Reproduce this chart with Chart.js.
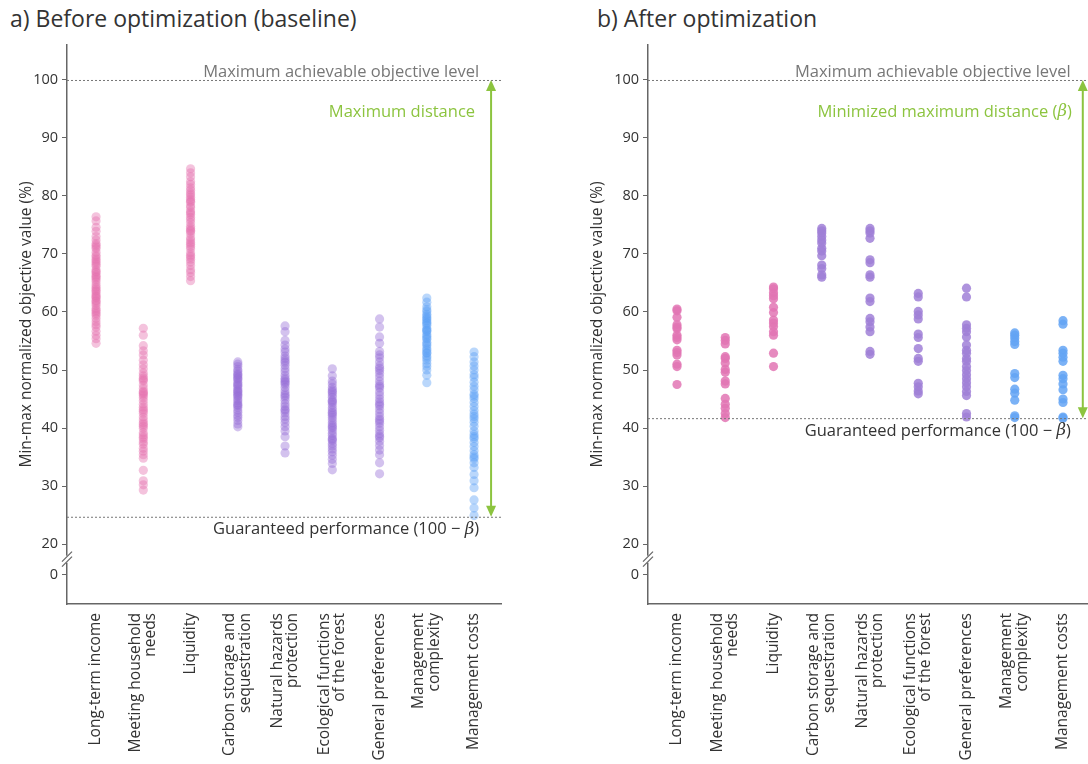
<!DOCTYPE html>
<html lang="en">
<head>
  <meta charset="UTF-8" />
  <title>Objective values before and after optimization</title>
  <style>
    body {
      margin: 0;
      background: #fff;
      font-family: "Open Sans", sans-serif;
    }
    .title {
      position: absolute;
      top: 2px;
      font-size: 23px;
      color: #333;
    }
    canvas {
      position: absolute;
      top: 0;
    }
  </style>
</head>
<body>
  <div class="title" style="left:10px">a) Before optimization (baseline)</div>
  <div class="title" style="left:597px">b) After optimization</div>
  <canvas id="chartA" width="520" height="764" style="left:0"></canvas>
  <canvas id="chartB" width="528" height="764" style="left:560px"></canvas>

  <script src="https://cdn.jsdelivr.net/npm/chart.js"></script>
  <script>
    const FONT = '"Open Sans", sans-serif';
    const LABEL_SIZE = 15.5, LABEL_LINE = 15.5;

    const categories = [
      ['Long-term income'],
      ['Meeting household', 'needs'],
      ['Liquidity'],
      ['Carbon storage and', 'sequestration'],
      ['Natural hazards', 'protection'],
      ['Ecological functions', 'of the forest'],
      ['General preferences'],
      ['Management', 'complexity'],
      ['Management costs']
    ];

    // y ticks: the "0" sits below the axis break
    const yTickValues = [14.66, 20, 30, 40, 50, 60, 70, 80, 90, 100];
    const yTickLabels = ['0', '20', '30', '40', '50', '60', '70', '80', '90', '100'];

    // a) baseline
    const beforeIncome = [76.4, 75.7, 74.6, 73.9, 73.0, 72.4, 71.8, 71.2, 70.9, 70.3, 69.8, 69.5, 68.8, 68.5, 67.9, 67.3, 67.0, 66.4, 66.1, 65.6, 65.2, 64.7, 64.3, 63.7, 63.5, 62.8, 62.4, 62.0, 61.5, 61.1, 60.6, 60.3, 59.7, 59.4, 58.9, 58.3, 57.8, 57.4, 56.7, 56.0, 55.4, 54.6, 71.5, 69.1, 66.8, 64.0, 62.6, 61.8, 60.0, 65.9, 68.2, 63.1];
    const beforeHousehold = [57.2, 56.0, 54.2, 53.3, 52.6, 51.7, 50.9, 50.2, 49.5, 49.0, 48.6, 48.1, 47.4, 46.8, 46.3, 45.9, 45.2, 44.7, 44.1, 43.6, 43.2, 42.5, 41.9, 41.4, 40.9, 40.3, 39.9, 39.2, 38.8, 38.1, 37.6, 37.2, 36.5, 36.0, 35.4, 34.8, 32.7, 30.9, 30.2, 29.3, 48.3, 45.6, 42.9, 40.6, 38.4, 46.1];
    const beforeLiquidity = [84.7, 84.0, 83.3, 82.5, 82.0, 81.4, 81.0, 80.5, 79.8, 79.4, 78.9, 78.3, 78.0, 77.4, 76.8, 76.3, 75.9, 75.4, 74.8, 74.4, 73.9, 73.5, 72.8, 72.4, 71.7, 71.3, 70.9, 70.2, 69.8, 69.1, 68.6, 68.0, 67.3, 66.8, 66.1, 65.4, 79.1, 77.1, 74.1, 72.0, 80.2, 69.5];
    const beforeCarbon = [51.4, 51.0, 50.6, 50.1, 49.8, 49.4, 49.0, 48.7, 48.3, 47.9, 47.6, 47.2, 46.8, 46.5, 46.1, 45.8, 45.4, 45.0, 44.7, 44.3, 43.9, 43.6, 43.1, 42.7, 42.2, 41.8, 41.3, 40.7, 40.2, 48.5, 46.3, 44.0, 47.4, 45.6, 49.2];
    const beforeHazards = [57.6, 56.6, 55.1, 54.3, 53.6, 53.1, 52.4, 52.0, 51.3, 50.8, 50.2, 49.7, 49.1, 48.6, 48.0, 47.5, 47.0, 46.4, 45.9, 45.3, 44.8, 44.2, 43.7, 43.2, 42.6, 42.0, 41.5, 40.9, 40.2, 39.5, 38.5, 36.9, 35.7, 51.6, 48.3, 45.6, 43.0, 47.8];
    const beforeEcological = [50.2, 49.0, 48.1, 47.6, 47.0, 46.6, 46.1, 45.7, 45.3, 44.8, 44.4, 44.0, 43.5, 43.1, 42.7, 42.2, 41.8, 41.4, 40.9, 40.5, 40.0, 39.6, 39.1, 38.7, 38.2, 37.8, 37.3, 36.9, 36.4, 35.9, 35.3, 34.6, 33.9, 32.8, 44.6, 42.5, 40.2, 38.0, 46.3];
    const beforePreferences = [58.8, 57.4, 55.7, 54.6, 53.2, 52.6, 52.1, 51.4, 50.7, 49.9, 49.4, 48.8, 48.1, 47.5, 46.9, 46.2, 45.6, 45.0, 44.5, 43.8, 43.2, 42.6, 42.0, 41.5, 40.8, 40.2, 39.6, 39.0, 38.3, 37.7, 37.0, 36.2, 35.4, 34.0, 32.1, 50.3, 47.2, 44.1, 41.2, 38.6];
    const beforeComplexity = [62.4, 61.7, 60.9, 60.4, 60.1, 59.6, 59.3, 58.8, 58.5, 58.2, 57.7, 57.2, 56.9, 56.6, 56.1, 55.8, 55.3, 54.8, 54.5, 54.2, 53.7, 53.4, 52.9, 52.4, 52.1, 51.7, 51.1, 50.6, 50.0, 49.1, 47.8, 58.0, 55.5, 53.0, 56.8, 59.0];
    const beforeCosts = [53.1, 52.3, 51.4, 50.7, 50.0, 49.2, 48.7, 47.9, 47.2, 46.6, 45.8, 45.1, 44.4, 43.7, 43.0, 42.4, 41.6, 41.0, 40.3, 39.5, 38.9, 38.2, 37.5, 36.8, 36.1, 35.4, 34.7, 34.0, 33.2, 32.0, 30.9, 29.7, 27.6, 26.2, 24.9, 45.5, 42.0, 38.5, 35.0];

    // b) after optimization
    const afterIncome = [60.5, 60.2, 59.1, 57.8, 57.4, 57.1, 56.0, 55.6, 55.2, 53.4, 53.0, 52.6, 51.0, 50.6, 47.5];
    const afterHousehold = [55.6, 55.1, 54.5, 52.3, 52.0, 51.2, 50.1, 49.6, 48.1, 47.6, 45.1, 44.1, 43.4, 42.5, 41.8];
    const afterLiquidity = [64.3, 64.0, 63.3, 62.8, 62.3, 60.8, 59.9, 58.6, 58.1, 57.5, 56.6, 56.0, 52.9, 50.6];
    const afterCarbon = [74.4, 74.0, 73.6, 73.0, 72.4, 71.9, 71.0, 70.5, 69.7, 68.1, 67.5, 66.4, 66.0];
    const afterHazards = [74.4, 74.0, 73.6, 72.7, 69.0, 68.5, 66.4, 66.0, 62.4, 61.8, 58.9, 58.3, 57.4, 56.6, 53.2, 52.7];
    const afterEcological = [63.2, 62.6, 60.1, 59.5, 58.8, 56.2, 55.6, 53.7, 52.0, 51.5, 47.7, 47.1, 46.4, 45.9];
    const afterPreferences = [64.1, 62.6, 57.8, 57.2, 56.6, 55.7, 54.3, 53.4, 52.9, 52.0, 51.5, 50.6, 49.9, 49.2, 48.5, 47.8, 47.1, 46.3, 45.6, 42.5, 41.9];
    const afterComplexity = [56.4, 56.0, 55.5, 54.9, 54.4, 49.4, 48.7, 46.7, 46.0, 44.8, 42.1, 41.8];
    const afterCosts = [58.5, 57.9, 53.4, 52.9, 52.2, 51.5, 49.1, 48.5, 47.6, 46.6, 45.0, 44.4, 41.9, 41.7];

    const beforeValues = [beforeIncome, beforeHousehold, beforeLiquidity, beforeCarbon, beforeHazards,
      beforeEcological, beforePreferences, beforeComplexity, beforeCosts];
    const afterValues = [afterIncome, afterHousehold, afterLiquidity, afterCarbon, afterHazards,
      afterEcological, afterPreferences, afterComplexity, afterCosts];

    const pinkA = 'rgba(228,112,175,0.42)', purpleA = 'rgba(150,110,215,0.42)', blueA = 'rgba(90,160,245,0.42)';
    const pinkB = 'rgba(226,118,180,0.85)', purpleB = 'rgba(160,128,215,0.85)', blueB = 'rgba(100,165,245,0.85)';
    const beforeColors = [pinkA, pinkA, pinkA, purpleA, purpleA, purpleA, purpleA, blueA, blueA];
    const afterColors = [pinkB, pinkB, pinkB, purpleB, purpleB, purpleB, purpleB, blueB, blueB];

    const GREEN = '#8cc43f';

    // text with an italic beta, right aligned at x
    function drawRich(ctx, parts, x, y, size, color) {
      ctx.fillStyle = color;
      ctx.textBaseline = 'middle';
      ctx.textAlign = 'left';
      const fonts = parts.map(p => p.it ? `italic ${size}px "DejaVu Serif", serif` : `${size}px ${FONT}`);
      let total = 0;
      parts.forEach((p, i) => { ctx.font = fonts[i]; total += ctx.measureText(p.t).width; });
      let cx = x - total;
      parts.forEach((p, i) => {
        ctx.font = fonts[i];
        ctx.fillText(p.t, cx, y);
        cx += ctx.measureText(p.t).width;
      });
    }

    const refLines = {
      id: 'refLines',
      afterDatasetsDraw(chart, args, opts) {
        const { ctx, chartArea: a, scales: { x, y } } = chart;
        const yTop = y.getPixelForValue(100);
        const yLow = y.getPixelForValue(opts.guaranteed);
        const ax = x.getPixelForValue(opts.arrowAt);
        ctx.save();

        ctx.strokeStyle = '#777';
        ctx.lineWidth = 1;
        ctx.setLineDash([2, 2]);
        [yTop, yLow].forEach(py => {
          ctx.beginPath();
          ctx.moveTo(a.left, py + 0.5);
          ctx.lineTo(a.right, py + 0.5);
          ctx.stroke();
        });
        ctx.setLineDash([]);

        // double arrow
        ctx.strokeStyle = GREEN;
        ctx.fillStyle = GREEN;
        ctx.lineWidth = 2;
        ctx.beginPath();
        ctx.moveTo(ax, yTop + 8);
        ctx.lineTo(ax, yLow - 8);
        ctx.stroke();
        ctx.beginPath();
        ctx.moveTo(ax, yTop);
        ctx.lineTo(ax - 5, yTop + 11);
        ctx.lineTo(ax + 5, yTop + 11);
        ctx.closePath();
        ctx.fill();
        ctx.beginPath();
        ctx.moveTo(ax, yLow);
        ctx.lineTo(ax - 5, yLow - 11);
        ctx.lineTo(ax + 5, yLow - 11);
        ctx.closePath();
        ctx.fill();

        const tx = ax - 12;
        ctx.font = `16.5px ${FONT}`;
        ctx.fillStyle = '#777';
        ctx.textAlign = 'right';
        ctx.textBaseline = 'alphabetic';
        ctx.fillText('Maximum achievable objective level', tx, yTop - 3);

        drawRich(ctx, opts.arrowLabel, ax - opts.greenGap, yTop + 32, 16.5, GREEN);
        drawRich(ctx, [{ t: 'Guaranteed performance (100 − ' }, { t: 'β', it: true }, { t: ')' }],
          tx, yLow + 13, 16.5, '#333');

        // axis break marks
        const by = y.getPixelForValue(17.3);
        ctx.fillStyle = '#fff';
        ctx.fillRect(a.left - 2, by - 4, 4, 7);
        ctx.strokeStyle = '#666';
        ctx.lineWidth = 1.2;
        [-3, 2].forEach(d => {
          ctx.beginPath();
          ctx.moveTo(a.left - 5, by + d + 5);
          ctx.lineTo(a.left + 5, by + d - 5);
          ctx.stroke();
        });
        ctx.restore();
      }
    };

    function makeChart(id, values, colors, opts) {
      const canvas = document.getElementById(id);
      // horizontal pixels per category unit, used to centre two-line labels on their column
      const pxPerUnit = (canvas.width - opts.yWidth - opts.padRight) / (opts.xMax - opts.xMin);
      const datasets = values.map((vals, i) => ({
        data: vals.map(v => ({ x: i, y: v })),
        backgroundColor: colors[i],
        borderWidth: 0,
        pointRadius: 4.6,
        pointHoverRadius: 4.6
      }));
      return new Chart(canvas, {
        type: 'scatter',
        data: { datasets },
        plugins: [refLines],
        options: {
          responsive: false,
          animation: false,
          layout: { autoPadding: false, padding: { top: 45, left: 0, right: opts.padRight, bottom: 0 } },
          plugins: {
            legend: { display: false },
            tooltip: { enabled: false },
            refLines: { guaranteed: opts.guaranteed, arrowAt: opts.arrowAt, arrowLabel: opts.arrowLabel, greenGap: opts.greenGap }
          },
          scales: {
            x: {
              type: 'linear',
              min: opts.xMin,
              max: opts.xMax,
              afterBuildTicks: s => {
                s.ticks = categories.map((c, i) => ({ value: i - (c.length - 1) * LABEL_LINE / 2 / pxPerUnit }));
              },
              afterFit: s => { s.height = 160; },
              grid: { display: false, drawTicks: false },
              border: { display: true, color: '#666', width: 1.5 },
              ticks: {
                autoSkip: false,
                minRotation: 90,
                maxRotation: 90,
                padding: 9,
                color: '#333',
                font: { family: FONT, size: LABEL_SIZE, lineHeight: LABEL_LINE / LABEL_SIZE },
                callback: (v, i) => categories[i]
              }
            },
            y: {
              min: 9.66,
              max: 106.03,
              afterBuildTicks: s => { s.ticks = yTickValues.map(v => ({ value: v })); },
              afterFit: s => { s.width = opts.yWidth; },
              grid: { drawOnChartArea: false, drawTicks: true, tickLength: 5, color: '#666' },
              border: { display: true, color: '#666', width: 1.5 },
              ticks: {
                padding: 4,
                color: '#333',
                font: { family: FONT, size: 14.5 },
                callback: (v, i) => yTickLabels[i]
              },
              title: {
                display: true,
                text: 'Min-max normalized objective value (%)',
                color: '#333',
                font: { family: FONT, size: 15.5 },
                padding: { top: opts.titlePad, bottom: 0 }
              }
            }
          }
        }
      });
    }

    makeChart('chartA', beforeValues, beforeColors, {
      guaranteed: 24.7, arrowAt: 8.36, xMin: -0.615, xMax: 8.57, padRight: 19, yWidth: 67, titlePad: 17, greenGap: 16,
      arrowLabel: [{ t: 'Maximum distance' }]
    });
    makeChart('chartB', afterValues, afterColors, {
      guaranteed: 41.7, arrowAt: 8.41, xMin: -0.601, xMax: 8.518, padRight: 0, yWidth: 88, titlePad: 28, greenGap: 11,
      arrowLabel: [{ t: 'Minimized maximum distance (' }, { t: 'β', it: true }, { t: ')' }]
    });
  </script>
</body>
</html>
